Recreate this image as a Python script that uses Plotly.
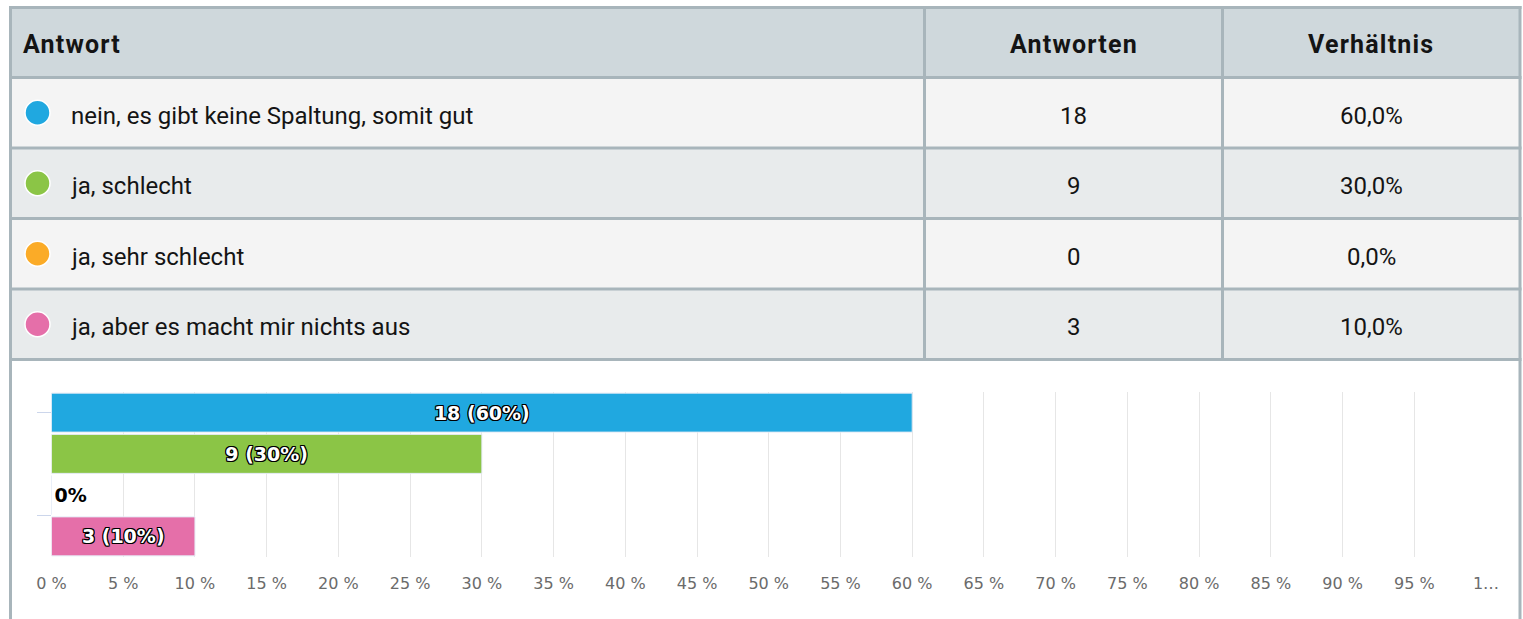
import plotly.graph_objects as go

# ---------------- data ----------------
answers = ["nein, es gibt keine Spaltung, somit gut", "ja, schlecht",
           "ja, sehr schlecht", "ja, aber es macht mir nichts aus"]
counts = [18, 9, 0, 3]
shares = [60.0, 30.0, 0.0, 10.0]
colors = ["#20a8e0", "#8bc546", "#fbab27", "#e56fa9"]
headers = ["Antwort", "Antworten", "Verhältnis"]
tick_vals = [0, 5, 10, 15, 20, 25, 30, 35, 40, 45, 50, 55, 60, 65, 70, 75, 80, 85, 90, 95, 100]
tick_text = ["0 %", "5 %", "10 %", "15 %", "20 %", "25 %", "30 %", "35 %", "40 %", "45 %",
             "50 %", "55 %", "60 %", "65 %", "70 %", "75 %", "80 %", "85 %", "90 %", "95 %", "1…"]

# ---------------- layout constants (pixels) ----------------
W, H = 1523, 619
col_edges = [10.5, 924.5, 1222.5, 1520]
row_edges = [7.5, 77.5, 148, 218.5, 289, 359.5]
header_bg = "#cfd8dc"
row_bg = ["#f4f4f4", "#e8ebec"]
border = "#a8b5bb"
TFONT = "Roboto, Liberation Sans, sans-serif"
TSIZE = 24
TEXT_DY = 3  # visual baseline correction


def X(px):
    return px / W


def Y(py):
    return 1 - py / H


shapes = []
annotations = []

# table backgrounds
for r in range(len(row_edges) - 1):
    fill = header_bg if r == 0 else row_bg[(r - 1) % 2]
    shapes.append(dict(type="rect", xref="paper", yref="paper", layer="below",
                       x0=X(col_edges[0]), x1=X(col_edges[-1]),
                       y0=Y(row_edges[r + 1]), y1=Y(row_edges[r]),
                       fillcolor=fill, line=dict(width=0)))
# horizontal lines
for ye in row_edges:
    shapes.append(dict(type="line", xref="paper", yref="paper",
                       x0=X(col_edges[0] - 1.5), x1=X(col_edges[-1] + 1.5), y0=Y(ye), y1=Y(ye),
                       line=dict(color=border, width=3)))
# vertical lines (table part)
for xe in col_edges:
    shapes.append(dict(type="line", xref="paper", yref="paper",
                       x0=X(xe), x1=X(xe), y0=Y(row_edges[-1]), y1=Y(row_edges[0] - 1.5),
                       line=dict(color=border, width=3)))
# container borders below table
for xe in (col_edges[0], col_edges[-1]):
    shapes.append(dict(type="line", xref="paper", yref="paper",
                       x0=X(xe), x1=X(xe), y0=0, y1=Y(row_edges[-1]),
                       line=dict(color=border, width=3)))

# header text
hy = (row_edges[0] + row_edges[1]) / 2 + 1.5
hfont = dict(family=TFONT, size=25, color="#141414")
annotations.append(dict(xref="paper", yref="paper", x=X(21), y=Y(hy), xanchor="left", yanchor="middle",
                        text="<b><span style='letter-spacing:1.2px'>%s</span></b>" % headers[0],
                        showarrow=False, font=hfont))
for c in (1, 2):
    annotations.append(dict(xref="paper", yref="paper", x=X((col_edges[c] + col_edges[c + 1]) / 2),
                            y=Y(hy), xanchor="center", yanchor="middle",
                            text="<b><span style='letter-spacing:1.2px'>%s</span></b>" % headers[c],
                            showarrow=False, font=hfont))

# rows
bfont = dict(family=TFONT, size=TSIZE, color="#141414")
for i, (a, n, s, col) in enumerate(zip(answers, counts, shares, colors)):
    cy = (row_edges[i + 1] + row_edges[i + 2]) / 2
    ty = cy + TEXT_DY
    shapes.append(dict(type="circle", xref="paper", yref="paper",
                       x0=X(25), x1=X(50), y0=Y(cy + 12.5), y1=Y(cy - 12.5),
                       fillcolor=col, line=dict(color="white", width=1.5)))
    annotations.append(dict(xref="paper", yref="paper", x=X(69), y=Y(ty), xanchor="left", yanchor="middle",
                            text=a, showarrow=False, font=bfont))
    annotations.append(dict(xref="paper", yref="paper", x=X((col_edges[1] + col_edges[2]) / 2), y=Y(ty),
                            xanchor="center", yanchor="middle", text=str(n), showarrow=False,
                            font=bfont))
    annotations.append(dict(xref="paper", yref="paper", x=X((col_edges[2] + col_edges[3]) / 2), y=Y(ty),
                            xanchor="center", yanchor="middle",
                            text=("%.1f%%" % s).replace(".", ","), showarrow=False, font=bfont))

# ---------------- bar chart ----------------
bar_text = [("%d (%.0f%%)" % (n, s)) if n > 0 else "%.0f%%" % s for n, s in zip(counts, shares)]
text_pos = ["inside" if n > 0 else "outside" for n in counts]
outline = ("-1px -1px 0 #000, 1px -1px 0 #000, -1px 1px 0 #000, 1px 1px 0 #000, "
           "0 1px 0 #000, 0 -1px 0 #000, 1px 0 0 #000, -1px 0 0 #000")

fig = go.Figure(go.Bar(
    x=shares, y=answers, orientation="h",
    marker=dict(color=colors, line=dict(color="#e4eaf5", width=1)),
    text=bar_text, textposition=text_pos, insidetextanchor="middle", textangle=0,
    insidetextfont=dict(family="DejaVu Sans", size=19, color="white", weight="bold", shadow=outline),
    outsidetextfont=dict(family="DejaVu Sans", size=19, color="black", weight="bold"),
    cliponaxis=False, hoverinfo="skip", showlegend=False,
))

fig.update_layout(
    width=W, height=H, margin=dict(l=0, r=0, t=0, b=0, autoexpand=False),
    paper_bgcolor="white", plot_bgcolor="white",
    bargap=0.055, shapes=shapes, annotations=annotations,
    xaxis=dict(domain=[X(51.5), X(1486)], range=[0, 100], tickvals=tick_vals, ticktext=tick_text,
               showgrid=True, gridcolor="#e6e6e6", gridwidth=1, zeroline=False, showline=False,
               ticks="", ticklabelstandoff=15, automargin=False,
               tickfont=dict(family="DejaVu Sans", size=16, color="#6b6b6b")),
    yaxis=dict(domain=[Y(557), Y(392)], autorange="reversed", showgrid=False, zeroline=False,
               showline=False, showticklabels=False, tickvals=[0, 2.5], ticks="outside",
               ticklen=14, tickcolor="#ccd6eb", tickwidth=1, automargin=False),
)

fig.write_html("out.html", config={"displayModeBar": False, "staticPlot": True},
               post_script="document.body.style.margin='0';document.body.style.overflow='hidden';")
